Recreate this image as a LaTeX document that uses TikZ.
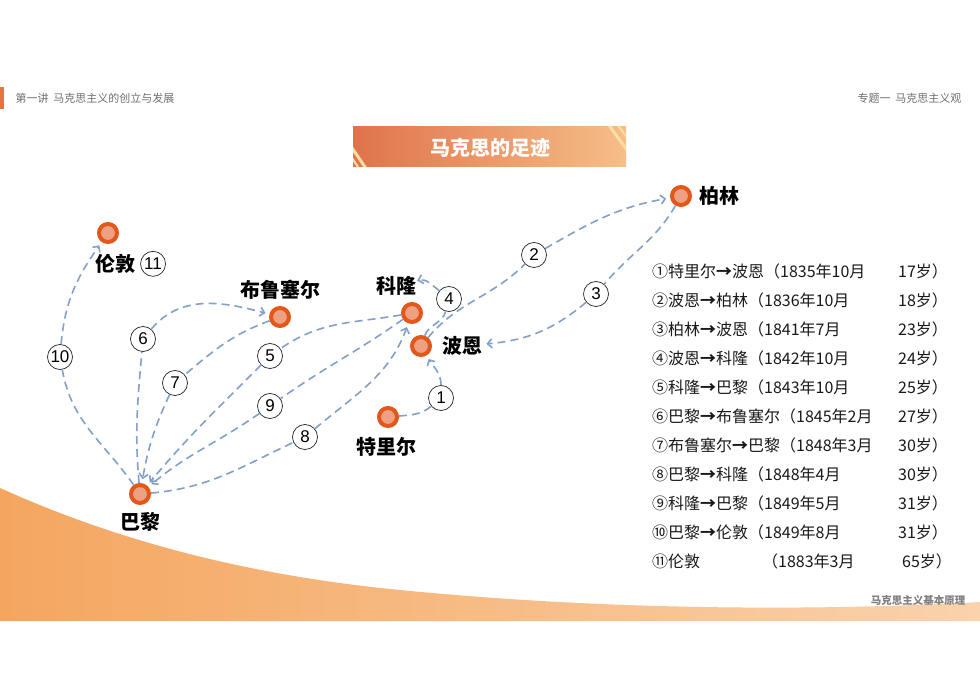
\documentclass[tikz,border=0pt]{standalone}
\usepackage{fontspec}
\setmainfont{Noto Sans CJK SC}
\newfontfamily\numfont{Liberation Sans}
\usepackage{tikz}
\usetikzlibrary{positioning, arrows.meta}
\definecolor{ringorange}{HTML}{E2581B}
\definecolor{corepink}{HTML}{EDA182}
\definecolor{routeblue}{HTML}{82A0C8}
\definecolor{headgray}{HTML}{6E6E6E}
\definecolor{headbar}{HTML}{E8743B}
\definecolor{banddark}{HTML}{F4A660}
\definecolor{bandlight}{HTML}{FAD2AC}
\definecolor{titleleft}{HTML}{E0734C}
\definecolor{titleright}{HTML}{F6BE88}
\definecolor{stripe}{HTML}{FCDDA6}
\tikzstyle{city} = [circle, draw=ringorange, fill=corepink, line width=4pt, minimum size=18pt, inner sep=0pt]
\tikzstyle{cityname} = [inner sep=0pt, font=\fontsize{20}{20}\selectfont\bfseries]
\tikzstyle{route} = [draw=routeblue, line width=1.6pt, dash pattern=on 8pt off 5pt, -{Straight Barb[length=4.5pt,width=9pt]}, shorten >=4pt]
\tikzstyle{legnum} = [circle, draw=black!85, line width=0.7pt, fill=white, minimum size=25pt, inner sep=0pt, font=\numfont\fontsize{17}{17}\selectfont]
\tikzstyle{tablerow} = [anchor=west, inner sep=0pt, text=black!90, font=\fontsize{16}{16}\selectfont]

\begin{document}
\begin{tikzpicture}[x=1pt, y=-1pt]
        \useasboundingbox (0,0) rectangle (980,692);
        % slide frame
        \fill[white] (0,0) rectangle (980,692);
        \shade[left color=banddark, right color=bandlight] (0,488) .. controls (133,548) and (267,577) .. (400,590) .. controls (593,609) and (800,612) .. (980,602) -- (980,621) -- (0,621) -- cycle;
        \fill[headbar] (0,87) rectangle (4,109);
        \node[anchor=west, text=headgray, font=\fontsize{11}{11}\selectfont] (lecture) at (12,98) {第一讲\ \ 马克思主义的创立与发展};
        \node[anchor=east, text=headgray, font=\fontsize{11}{11}\selectfont] (topic) at (965,98) {专题一\ \ 马克思主义观};
        \node[anchor=east, text=gray, font=\fontsize{10.5}{10.5}\selectfont\bfseries] (course) at (969,601) {马克思主义基本原理};

        % title banner
        \shade[left color=titleleft, right color=titleright] (353,127) rectangle (626,167);
        \begin{scope}
            \clip (353,127) rectangle (626,167);
            \draw[stripe, line width=3pt] (350,145) -- (367,170);
            \draw[stripe, line width=2pt] (350,155) -- (360,170);
            \draw[stripe, line width=3pt] (608,124) -- (627,150);
            \draw[stripe, line width=2pt] (617,124) -- (628,139);
        \end{scope}
        \node[text=white, font=\fontsize{20}{20}\selectfont\bfseries] (title) at (490,148) {马克思的足迹};

        % cities
        \node[city] (london) at (108,233) {};
        \node[city] (brussels) at (280,317) {};
        \node[city] (koln) at (412,313) {};
        \node[city] (bonn) at (421,346) {};
        \node[city] (trier) at (388,417) {};
        \node[city] (berlin) at (681,196) {};
        \node[city] (paris) at (140,494) {};
        \node[cityname, below=10pt of london, xshift=7pt] (london-t) {伦敦};
        \node[legnum, right=5pt of london-t] (n11) {11};
        \node[cityname, above=6pt of brussels] (brussels-t) {布鲁塞尔};
        \node[cityname, above=6pt of koln, xshift=-16pt] (koln-t) {科隆};
        \node[cityname, right=10pt of bonn] (bonn-t) {波恩};
        \node[cityname, below=9pt of trier, xshift=-2pt] (trier-t) {特里尔};
        \node[cityname, right=7pt of berlin] (berlin-t) {柏林};
        \node[cityname, below=7pt of paris] (paris-t) {巴黎};

        % route numbers
        \node[legnum] (n1) at (441,398) {1};
        \node[legnum] (n2) at (534,255) {2};
        \node[legnum] (n3) at (596,294) {3};
        \node[legnum] (n4) at (449,299) {4};
        \node[legnum] (n5) at (270,356) {5};
        \node[legnum] (n6) at (143,339) {6};
        \node[legnum] (n7) at (175,383) {7};
        \node[legnum] (n8) at (305,437) {8};
        \node[legnum] (n9) at (270,406) {9};
        \node[legnum] (n10) at (60,357) {10};

        % routes
        \draw[route] (trier) to[out=5, in=220] (n1) to[out=90, in=-60] (bonn);
        \draw[route] (bonn) to[out=50, in=225] (n2) to[out=30, in=190] (berlin);
        \draw[route] (berlin) to[out=240, in=50] (n3) to[out=220, in=5] (bonn-t);
        \draw[route, shorten >=1pt] (bonn) to[out=70, in=255] (n4) to[out=140, in=15] (koln-t);
        \draw[route] (koln) to[out=190, in=35] (n5) to[out=225, in=50] (paris);
        \draw[route] (paris) to[out=95, in=265] (n6) to[out=50, in=165] (brussels);
        \draw[route] (brussels) to[out=200, in=40] (n7) to[out=245, in=80] (paris);
        \draw[route] (paris) to[out=5, in=205] (n8) to[out=40, in=250] (koln);
        \draw[route] (koln) to[out=215, in=35] (n9) to[out=215, in=40] (paris);
        \draw[route] (paris) to[out=125, in=280] (n10) to[out=85, in=235] (london);

        % timeline
        \node[tablerow] (r1) at (652,271) {①特里尔\textbf{→}波恩（1835年10月};
        \node[tablerow] (r2) at (652,300) {②波恩\textbf{→}柏林（1836年10月};
        \node[tablerow] (r3) at (652,329) {③柏林\textbf{→}波恩（1841年7月};
        \node[tablerow] (r4) at (652,358) {④波恩\textbf{→}科隆（1842年10月};
        \node[tablerow] (r5) at (652,387) {⑤科隆\textbf{→}巴黎（1843年10月};
        \node[tablerow] (r6) at (652,416) {⑥巴黎\textbf{→}布鲁塞尔（1845年2月};
        \node[tablerow] (r7) at (652,445) {⑦布鲁塞尔\textbf{→}巴黎（1848年3月};
        \node[tablerow] (r8) at (652,474) {⑧巴黎\textbf{→}科隆（1848年4月};
        \node[tablerow] (r9) at (652,503) {⑨科隆\textbf{→}巴黎（1849年5月};
        \node[tablerow] (r10) at (652,532) {⑩巴黎\textbf{→}伦敦（1849年8月};
        \node[tablerow] (r11) at (652,561) {⑪伦敦};
        \node[tablerow] (r11d) at (762,561) {（1883年3月};
        \node[tablerow] (a1) at (898,271) {17岁）};
        \node[tablerow] (a2) at (898,300) {18岁）};
        \node[tablerow] (a3) at (898,329) {23岁）};
        \node[tablerow] (a4) at (898,358) {24岁）};
        \node[tablerow] (a5) at (898,387) {25岁）};
        \node[tablerow] (a6) at (898,416) {27岁）};
        \node[tablerow] (a7) at (898,445) {30岁）};
        \node[tablerow] (a8) at (898,474) {30岁）};
        \node[tablerow] (a9) at (898,503) {31岁）};
        \node[tablerow] (a10) at (898,532) {31岁）};
        \node[tablerow] (a11) at (902,561) {65岁）};
\end{tikzpicture}
\end{document}
